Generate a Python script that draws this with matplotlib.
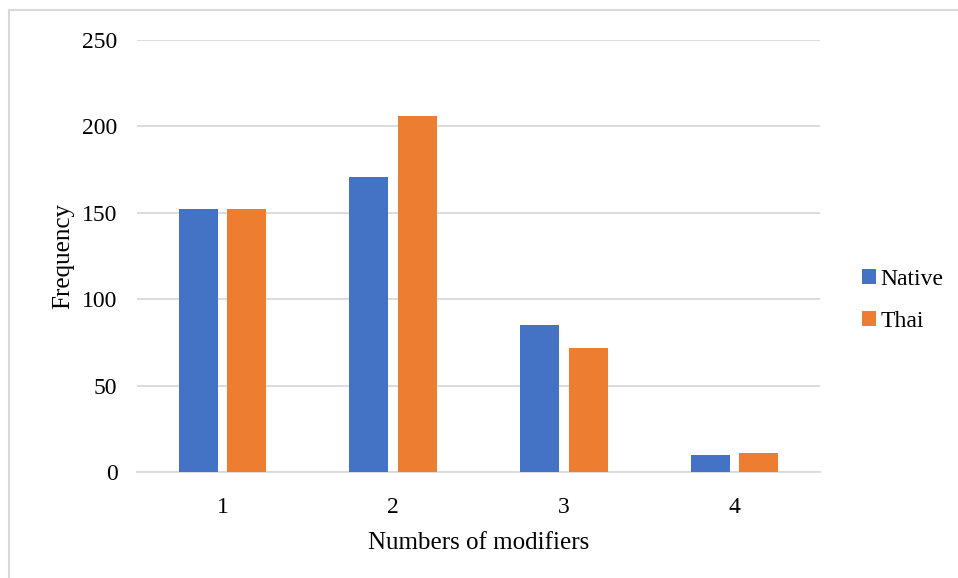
import numpy as np
import matplotlib.pyplot as plt
from matplotlib.lines import Line2D

categories = ['1', '2', '3', '4']
native = [152, 171, 85, 10]
thai = [152, 206, 72, 11]

plt.rcParams['font.family'] = ['Liberation Serif', 'DejaVu Serif']

fig = plt.figure(figsize=(9.58, 5.78), dpi=100)
ax = fig.add_axes([0.143, 0.1834, 0.713, 0.7474])

x = np.arange(len(categories))
w = 0.228
ax.bar(x - 0.142, native, w, color='#4472c4', label='Native', zorder=3)
ax.bar(x + 0.142, thai, w, color='#ed7d31', label='Thai', zorder=3)

ax.set_xlim(-0.5, 3.5)
ax.set_ylim(0, 250)
ax.set_yticks(range(0, 251, 50))
ax.set_xticks(x)
ax.set_xticklabels(categories)
ax.grid(axis='y', color='#d9d9d9', linewidth=1.3, zorder=0)
for s in ['top', 'right', 'left']:
    ax.spines[s].set_visible(False)
ax.spines['bottom'].set_color('#d9d9d9')
ax.spines['bottom'].set_linewidth(1.3)
ax.tick_params(length=0, labelsize=17)
ax.tick_params(axis='y', pad=14)
ax.tick_params(axis='x', pad=18)
ax.set_xlabel('Numbers of modifiers', fontsize=18, labelpad=10)
ax.set_ylabel('Frequency', fontsize=18, labelpad=6)

ax.legend(loc='center left', bbox_to_anchor=(1.04, 0.397), frameon=False,
          fontsize=17, handlelength=0.6, handleheight=0.6, handletextpad=0.2,
          labelspacing=0.9, borderaxespad=0.2)

# frame around the chart
fig.add_artist(Line2D([0.009, 0.009], [0, 0.982], color='#d9d9d9', linewidth=1.5))
fig.add_artist(Line2D([0.009, 1.0], [0.982, 0.982], color='#d9d9d9', linewidth=1.5))

fig.savefig('out.png', dpi=100)
